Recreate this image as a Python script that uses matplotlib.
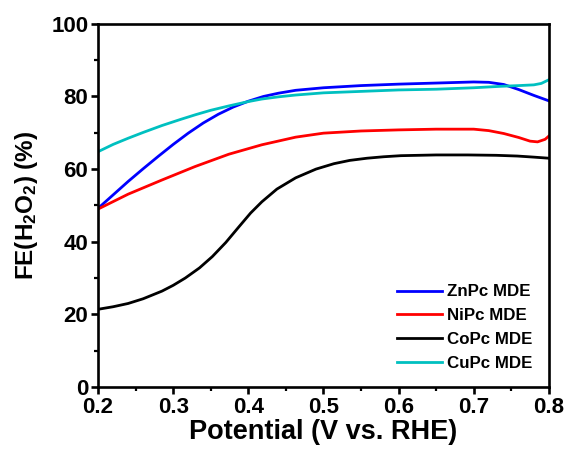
import matplotlib
matplotlib.use("Agg")
import matplotlib.pyplot as plt
import numpy as np

plt.rcParams['font.family'] = ['Liberation Sans', 'DejaVu Sans']
plt.rcParams['font.weight'] = 'bold'
plt.rcParams['mathtext.fontset'] = 'custom'
plt.rcParams['mathtext.rm'] = 'Liberation Sans:bold'
plt.rcParams['mathtext.bf'] = 'Liberation Sans:bold'
plt.rcParams['mathtext.default'] = 'bf'

# Data
zn_x = [0.2, 0.22, 0.24, 0.26, 0.28, 0.30, 0.32, 0.34, 0.36, 0.38, 0.40, 0.42, 0.44, 0.463, 0.5, 0.55, 0.6, 0.65, 0.7, 0.72, 0.74, 0.76, 0.78, 0.8]
zn_y = [49.2, 52.9, 56.6, 60.1, 63.5, 66.8, 69.9, 72.7, 75.1, 77.1, 78.7, 80.0, 80.9, 81.7, 82.4, 83.0, 83.4, 83.7, 84.0, 83.9, 83.3, 81.9, 80.3, 78.8]

ni_x = [0.2, 0.24, 0.285, 0.329, 0.374, 0.418, 0.463, 0.5, 0.55, 0.6, 0.65, 0.7, 0.72, 0.74, 0.76, 0.775, 0.785, 0.795, 0.8]
ni_y = [49.0, 53.1, 57.0, 60.7, 64.1, 66.7, 68.8, 69.9, 70.5, 70.8, 71.0, 71.0, 70.6, 69.8, 68.7, 67.7, 67.5, 68.2, 69.1]

co_x = [0.2, 0.22, 0.24, 0.26, 0.285, 0.30, 0.316, 0.335, 0.352, 0.37, 0.387, 0.403, 0.418, 0.438, 0.463, 0.49, 0.514, 0.535, 0.558, 0.58, 0.603, 0.65, 0.692, 0.73, 0.758, 0.78, 0.8]
co_y = [21.4, 22.1, 23.0, 24.3, 26.4, 28.0, 30.0, 32.8, 35.9, 39.8, 44.0, 47.9, 51.0, 54.5, 57.6, 60.0, 61.5, 62.4, 63.0, 63.4, 63.7, 63.9, 63.9, 63.8, 63.6, 63.3, 63.0]

cu_x = [0.2, 0.22, 0.24, 0.26, 0.285, 0.31, 0.33, 0.35, 0.374, 0.40, 0.418, 0.44, 0.463, 0.5, 0.55, 0.6, 0.65, 0.7, 0.736, 0.76, 0.78, 0.79, 0.8]
cu_y = [64.8, 66.8, 68.5, 70.1, 72.0, 73.7, 75.0, 76.2, 77.4, 78.6, 79.3, 79.9, 80.4, 81.0, 81.4, 81.8, 82.0, 82.4, 82.8, 83.0, 83.2, 83.6, 84.6]

labels = ['ZnPc MDE', 'NiPc MDE', 'CoPc MDE', 'CuPc MDE']
colors = ['#0000ff', '#ff0000', '#000000', '#00c0c0']

fig = plt.figure(figsize=(5.67, 4.5), dpi=100)
ax = fig.add_axes([0.173, 0.14, 0.795, 0.807])

for (xs, ys), lab, c in zip([(zn_x, zn_y), (ni_x, ni_y), (co_x, co_y), (cu_x, cu_y)], labels, colors):
    ax.plot(xs, ys, color=c, lw=2.0, label=lab, solid_joinstyle='round')

ax.set_xlim(0.2, 0.8)
ax.set_ylim(0, 100)
ax.set_xticks(np.arange(0.2, 0.81, 0.1))
ax.set_xticklabels(['0.2', '0.3', '0.4', '0.5', '0.6', '0.7', '0.8'])
ax.set_xticks(np.arange(0.25, 0.8, 0.1), minor=True)
ax.set_yticks(np.arange(0, 101, 20))
ax.set_yticks(np.arange(10, 100, 20), minor=True)

for s in ax.spines.values():
    s.set_linewidth(1.9)
ax.tick_params(which='major', direction='out', length=5, width=1.9, labelsize=16, pad=2)
ax.tick_params(which='minor', direction='out', length=3, width=1.6)
ax.tick_params(top=False, right=False)

ax.set_xlabel('Potential (V vs. RHE)', fontsize=19.5, fontweight='bold', labelpad=1)
ax.set_ylabel('FE(H$_2$O$_2$) (%)', fontsize=17.5, fontweight='bold', labelpad=8)

leg = ax.legend(loc='lower right', frameon=False, fontsize=12.2, handlelength=2.7,
                handletextpad=0.3, labelspacing=0.52, borderaxespad=0.55)
for t in leg.get_texts():
    t.set_fontweight('bold')

fig.savefig('out.png', dpi=100)
